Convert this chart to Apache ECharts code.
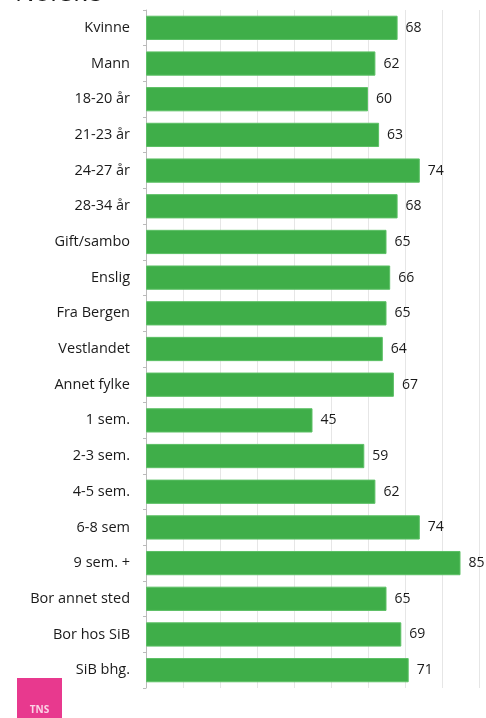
<!DOCTYPE html>
<html><head><meta charset="utf-8">
<script src="https://cdn.jsdelivr.net/npm/echarts@6/dist/echarts.min.js"></script>
<style>html,body{margin:0;padding:0;background:#fff}#c{width:486px;height:718px}</style>
</head><body><div id="c"></div>
<script>
const categories = ["Kvinne","Mann","18-20 år","21-23 år","24-27 år","28-34 år","Gift/sambo","Enslig","Fra Bergen","Vestlandet","Annet fylke","1 sem.","2-3 sem.","4-5 sem.","6-8 sem","9 sem. +","Bor annet sted","Bor hos SiB","SiB bhg."];
const values = [68,62,60,63,74,68,65,66,65,64,67,45,59,62,74,85,65,69,71];
const titleText = "Norske";
const logoText = "TNS";

const chart = echarts.init(document.getElementById('c'));
chart.setOption({
  animation: false,
  title: { text: titleText, left: 10, top: -24, textStyle: { fontFamily: 'Open Sans', fontSize: 26, fontWeight: 'normal', color: '#1a1a1a' } },
  grid: { left: 146, right: 7, top: 10, bottom: 30 },
  xAxis: {
    type: 'value', min: 0, max: 90, interval: 10,
    axisLabel: { show: false }, axisLine: { show: false }, axisTick: { show: false },
    splitLine: { show: true, lineStyle: { color: '#e6e6e6', width: 1 } }
  },
  yAxis: {
    type: 'category', data: categories, inverse: true,
    axisLine: { show: true, lineStyle: { color: '#bbb' } },
    axisTick: { show: true, length: 3, lineStyle: { color: '#bbb' } },
    axisLabel: { color: '#1a1a1a', fontFamily: 'Open Sans', fontSize: 14.5, margin: 16 }
  },
  series: [{
    type: 'bar', data: values, barCategoryGap: '32%',
    itemStyle: { color: '#3fae49', borderColor: '#5cc065', borderWidth: 1 },
    label: { show: true, position: 'right', distance: 8, color: '#1a1a1a', fontFamily: 'Open Sans', fontSize: 14 }
  }],
  graphic: [
    { type: 'rect', left: 17, top: 678, shape: { width: 45, height: 40 }, style: { fill: '#e8398e' } },
    { type: 'text', x: 39.5, y: 710, style: { text: logoText, fill: '#fbd4e6', font: 'bold 10px "Open Sans"', align: 'center', verticalAlign: 'middle' } }
  ]
});
</script></body></html>
